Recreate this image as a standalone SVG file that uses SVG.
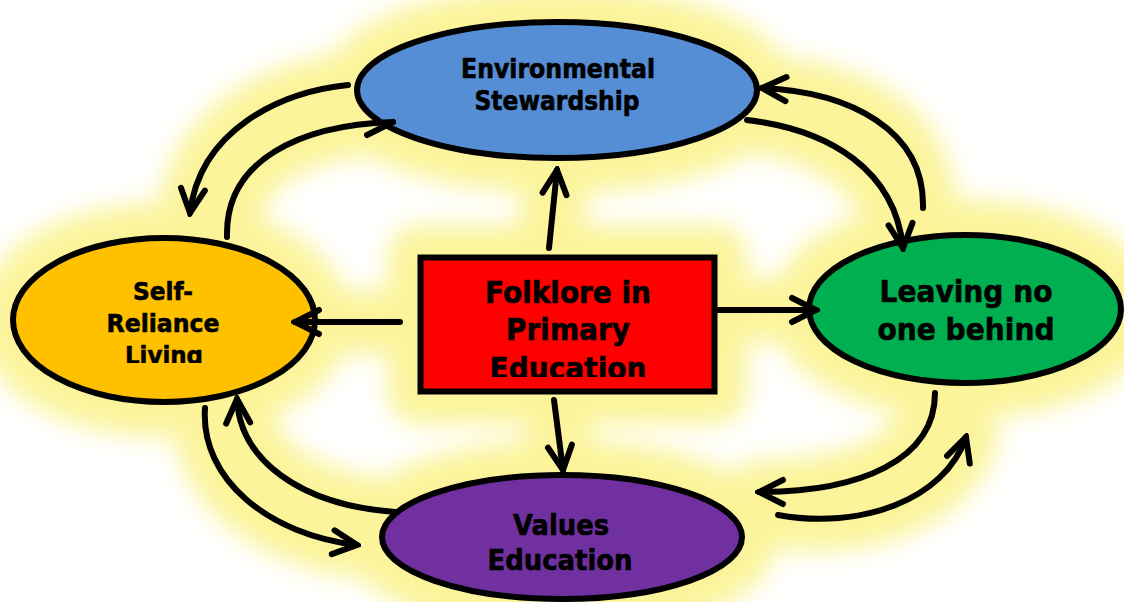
<svg xmlns="http://www.w3.org/2000/svg" width="1124" height="602" viewBox="0 0 1124 602">
  <defs>
    <style>
      .node { stroke: #000; stroke-width: 6; }
      .lbl { font-family: "DejaVu Sans", Verdana, sans-serif; font-weight: bold; fill: #000; stroke: #000; stroke-width: 0.6; text-anchor: middle; }
      .link { fill: none; stroke: #000; stroke-width: 6; stroke-linecap: round; }
      .halo { fill: #FBF49B; stroke: #FBF49B; stroke-linejoin: round; stroke-linecap: round; }
      .halo-line { fill: none; stroke: #FBF49B; stroke-width: 64; stroke-linecap: round; }
    </style>
    <marker id="chev" viewBox="-30 -16 34 32" markerWidth="34" markerHeight="32" refX="0" refY="0" orient="auto" markerUnits="userSpaceOnUse">
      <path d="M -24 -12 L 0 0 L -24 12" fill="none" stroke="#000" stroke-width="6" stroke-linecap="round" stroke-linejoin="miter"/>
    </marker>
    <filter id="soft" x="-20%" y="-20%" width="140%" height="140%">
      <feGaussianBlur stdDeviation="12"/>
    </filter>
    <clipPath id="clipLiving"><rect x="0" y="200" width="330" height="163"/></clipPath>
    <clipPath id="clipBox"><rect x="418" y="255" width="299" height="122"/></clipPath>
  </defs>

  <rect width="1124" height="602" fill="#fff"/>

  <!-- soft yellow halo behind the whole cycle -->
  <g id="halo" filter="url(#soft)">
    <ellipse class="halo" cx="557" cy="90" rx="200" ry="68" stroke-width="70"/>
    <ellipse class="halo" cx="164" cy="320" rx="151" ry="82" stroke-width="70"/>
    <ellipse class="halo" cx="965" cy="309" rx="158" ry="74" stroke-width="70"/>
    <ellipse class="halo" cx="562" cy="537" rx="180" ry="62" stroke-width="70"/>
    <rect class="halo" x="418" y="255" width="299" height="139" stroke-width="60"/>
    <path class="halo-line" d="M 348 85 C 280 92, 200 130, 190 213"/>
    <path class="halo-line" d="M 227 237 C 225 160, 300 125, 393 122"/>
    <path class="halo-line" d="M 923 208 C 925 130, 850 92, 762 88"/>
    <path class="halo-line" d="M 747 120 C 830 130, 895 170, 903 248"/>
    <path class="halo-line" d="M 395 512 C 300 505, 240 460, 237 399"/>
    <path class="halo-line" d="M 205 408 C 200 480, 270 535, 357 545"/>
    <path class="halo-line" d="M 935 393 C 935 460, 860 492, 759 492"/>
    <path class="halo-line" d="M 778 515 C 860 530, 945 500, 966 437"/>
    <path class="halo-line" d="M 549 248 L 557 170 M 400 322 L 295 322 M 717 310 L 816 310 M 554 400 L 563 470" stroke-width="50"/>
  </g>

  <!-- nodes -->
  <g id="environmental-stewardship">
    <ellipse class="node" cx="557" cy="90" rx="200" ry="68" fill="#558ED5"/>
    <text class="lbl" x="558" y="78" font-size="26" textLength="194" lengthAdjust="spacingAndGlyphs">Environmental</text>
    <text class="lbl" x="557" y="110" font-size="26" textLength="165" lengthAdjust="spacingAndGlyphs">Stewardship</text>
  </g>

  <g id="self-reliance-living">
    <ellipse class="node" cx="164" cy="320" rx="151" ry="82" fill="#FFC000"/>
    <text class="lbl" x="163" y="300" font-size="25" textLength="60" lengthAdjust="spacingAndGlyphs">Self-</text>
    <text class="lbl" x="163" y="332" font-size="25" textLength="113" lengthAdjust="spacingAndGlyphs">Reliance</text>
    <text class="lbl" x="164" y="364" font-size="25" textLength="78" lengthAdjust="spacingAndGlyphs" clip-path="url(#clipLiving)">Living</text>
  </g>

  <g id="leaving-no-one-behind">
    <ellipse class="node" cx="965" cy="309" rx="156" ry="74" fill="#00B050"/>
    <text class="lbl" x="966" y="302" font-size="31" textLength="173" lengthAdjust="spacingAndGlyphs">Leaving no</text>
    <text class="lbl" x="966" y="340" font-size="31" textLength="177" lengthAdjust="spacingAndGlyphs">one behind</text>
  </g>

  <g id="values-education">
    <ellipse class="node" cx="562" cy="537" rx="180" ry="62" fill="#7030A0"/>
    <text class="lbl" x="561" y="535" font-size="28" textLength="96" lengthAdjust="spacingAndGlyphs">Values</text>
    <text class="lbl" x="560" y="570" font-size="28" textLength="145" lengthAdjust="spacingAndGlyphs">Education</text>
  </g>

  <g id="folklore-in-primary-education">
    <rect class="node" x="420.5" y="257.5" width="294" height="134" fill="#FF0000" stroke-width="6"/>
    <text class="lbl" x="568" y="303" font-size="31" textLength="166" lengthAdjust="spacingAndGlyphs">Folklore in</text>
    <text class="lbl" x="568" y="340" font-size="31" textLength="124" lengthAdjust="spacingAndGlyphs">Primary</text>
    <text class="lbl" x="568" y="379" font-size="31" textLength="157" lengthAdjust="spacingAndGlyphs" clip-path="url(#clipBox)">Education</text>
  </g>

  <!-- connectors -->
  <g id="connectors">
    <!-- hub to each theme -->
    <path class="link" d="M 549 248 L 557 170" marker-end="url(#chev)"/>
    <path class="link" d="M 400 322 L 295 322" marker-end="url(#chev)"/>
    <path class="link" d="M 717 310 L 816 310" marker-end="url(#chev)"/>
    <path class="link" d="M 554 400 L 563 470" marker-end="url(#chev)"/>

    <!-- stewardship <-> self-reliance -->
    <path class="link" d="M 348 85 C 280 92, 200 130, 190 213" marker-end="url(#chev)"/>
    <path class="link" d="M 227 237 C 225 160, 300 125, 393 122"/>
    <path class="link" d="M 367 135 L 393 122"/>

    <!-- stewardship <-> leaving no one behind -->
    <path class="link" d="M 923 208 C 925 130, 850 92, 762 88" marker-end="url(#chev)"/>
    <path class="link" d="M 747 120 C 830 130, 895 170, 903 248" marker-end="url(#chev)"/>

    <!-- self-reliance <-> values -->
    <path class="link" d="M 395 512 C 300 505, 240 460, 237 399" marker-end="url(#chev)"/>
    <path class="link" d="M 205 408 C 200 480, 270 535, 357 545" marker-end="url(#chev)"/>

    <!-- leaving no one behind <-> values -->
    <path class="link" d="M 935 393 C 935 460, 860 492, 759 492" marker-end="url(#chev)"/>
    <path class="link" d="M 778 515 C 860 530, 945 500, 966 437" marker-end="url(#chev)"/>
  </g>
</svg>
